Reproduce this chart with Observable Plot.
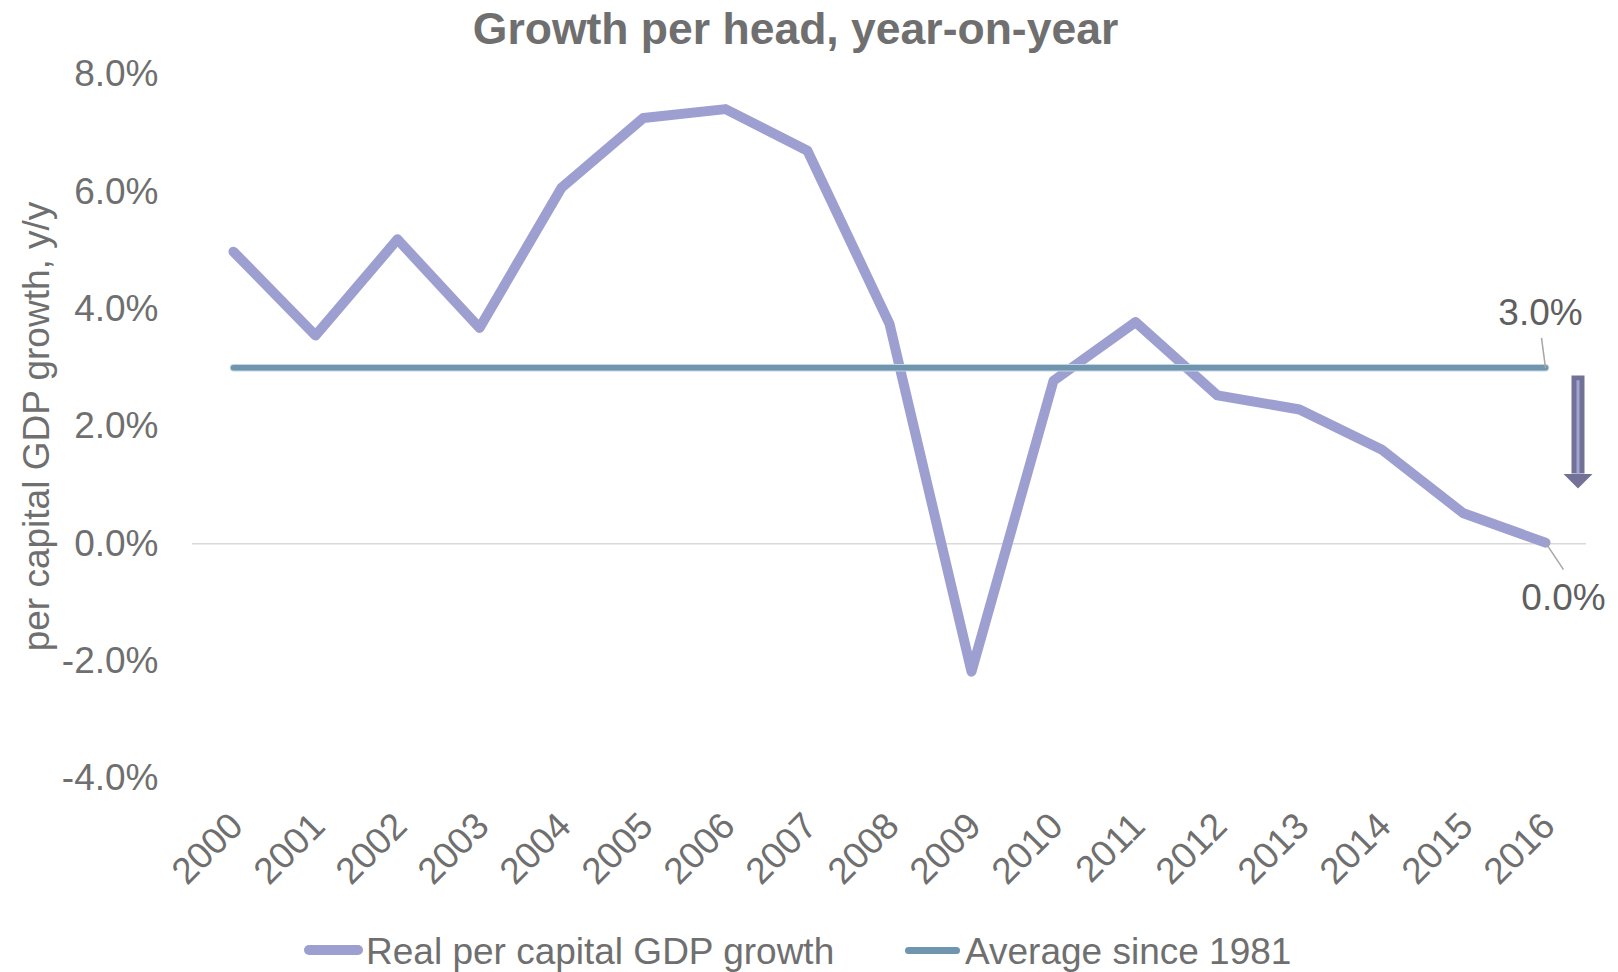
<!DOCTYPE html>
<html><head><meta charset="utf-8">
<script src="https://cdn.jsdelivr.net/npm/d3@7"></script>
<script src="https://cdn.jsdelivr.net/npm/@observablehq/plot@0.6"></script>
<style>
html,body{margin:0;padding:0;background:#fff;}
body{width:1618px;height:972px;overflow:hidden;position:relative;font-family:"Liberation Sans",Arial,sans-serif;}
#title{height:58px;line-height:58px;font-size:44.5px;font-weight:bold;color:#6f6f6f;text-align:center;padding-right:27px;white-space:nowrap;}
#legend{position:absolute;left:0;top:924px;width:1618px;height:56px;}
.sw{position:absolute;border-radius:6px;}
.lt{position:absolute;font-size:37px;color:#6f6f6f;line-height:56px;top:0;white-space:nowrap;}
</style></head><body>
<div id="title"></div>
<div id="chart"></div>
<div id="legend"></div>
<script>
const titleText = "Growth per head, year-on-year";
const yLabel = "per capital GDP growth, y/y";
const years = ["2000","2001","2002","2003","2004","2005","2006","2007","2008","2009","2010","2011","2012","2013","2014","2015","2016"];
const gdpGrowth = [4.98, 3.55, 5.19, 3.68, 6.07, 7.26, 7.41, 6.70, 3.75, -2.18, 2.78, 3.78, 2.53, 2.29, 1.61, 0.52, 0.02];
const averageSince1981 = 3.0;
const yTicks = [-4, -2, 0, 2, 4, 6, 8];
const seriesNames = ["Real per capital GDP growth", "Average since 1981"];
const arrowFrom = 2.86, arrowHeadAt = 1.19;

const gdpColor = "#9d9fd0", avgColor = "#6f96ae", textColor = "#6f6f6f";
const fmt = d => d.toFixed(1) + "%";

const gdpData = years.map((y, i) => ({year: y, value: gdpGrowth[i]}));
const avgData = years.map(y => ({year: y, value: averageSince1981}));
const lastYear = years[years.length - 1];
const lastGdp = gdpGrowth[gdpGrowth.length - 1];

const headSymbol = {draw(ctx) { ctx.moveTo(-14.5, 0); ctx.lineTo(14.5, 0); ctx.lineTo(0, 14.5); ctx.closePath(); }};
const leaderUp = {draw(ctx) { ctx.moveTo(0, 0); ctx.lineTo(-4, -30); }};
const leaderDown = {draw(ctx) { ctx.moveTo(0, 0); ctx.lineTo(18, 27); }};

document.getElementById("title").textContent = titleText;

const chart = Plot.plot({
  width: 1618,
  height: 866,
  marginTop: 16,
  marginBottom: 146,
  marginLeft: 192,
  marginRight: 32,
  style: {fontFamily: '"Liberation Sans", Arial, sans-serif', fontSize: "37px", color: textColor, background: "white", overflow: "visible"},
  x: {type: "point", domain: years, padding: 0.5},
  y: {domain: [-4, 8]},
  marks: [
    Plot.ruleY([0], {stroke: "#d9d9d9", strokeWidth: 1.5}),
    Plot.axisY({ticks: yTicks, tickFormat: fmt, tickSize: 0, tickPadding: 34, label: null, fill: textColor}),
    Plot.axisX({tickRotate: -45, textAnchor: "end", lineAnchor: "top", tickSize: 0, tickPadding: 31, dx: -7, label: null, fill: textColor}),
    Plot.text([yLabel], {frameAnchor: "left", textAnchor: "middle", lineAnchor: "middle", dx: -155, rotate: -90, text: d => d, fill: textColor, fontSize: 37}),
    Plot.line(gdpData, {x: "year", y: "value", stroke: gdpColor, strokeWidth: 10, strokeLinejoin: "round", strokeLinecap: "round"}),
    Plot.line(avgData, {x: "year", y: "value", stroke: "#c3d5e1", strokeWidth: 7.5, strokeLinecap: "round"}),
    Plot.line(avgData, {x: "year", y: "value", stroke: avgColor, strokeWidth: 5.5, strokeLinecap: "round"}),
    // leader lines and data labels
    Plot.dot([averageSince1981], {x: () => lastYear, y: d => d, symbol: leaderUp, fill: "none", stroke: "#a6a6a6", strokeWidth: 1.5}),
    Plot.dot([lastGdp], {x: () => lastYear, y: d => d, symbol: leaderDown, fill: "none", stroke: "#a6a6a6", strokeWidth: 1.5}),
    Plot.text([averageSince1981], {x: () => lastYear, y: d => d, text: fmt, dx: -5, dy: -55, fill: "#5f5f5f", fontSize: 37}),
    Plot.text([lastGdp], {x: () => lastYear, y: d => d, text: fmt, dx: 18, dy: 55, fill: "#5f5f5f", fontSize: 37}),
    // down arrow annotation
    Plot.ruleX([lastYear], {x: d => d, y1: arrowFrom, y2: arrowHeadAt, dx: 32.5, stroke: "#727298", strokeWidth: 13}),
    Plot.ruleX([lastYear], {x: d => d, y1: arrowFrom - 0.08, y2: arrowHeadAt, dx: 32.5, stroke: "#a3a3d4", strokeWidth: 3}),
    Plot.dot([arrowHeadAt], {x: () => lastYear, y: d => d, dx: 32.5, symbol: headSymbol, fill: "#727298", stroke: "none"})
  ]
});
document.getElementById("chart").appendChild(chart);

const legend = document.getElementById("legend");
const items = [
  {name: seriesNames[0], color: gdpColor, sx: 304, sw: 59, sh: 10, tx: 366},
  {name: seriesNames[1], color: avgColor, sx: 905, sw: 55, sh: 7, tx: 965}
];
for (const it of items) {
  const s = document.createElement("div");
  s.className = "sw";
  s.style.left = it.sx + "px"; s.style.width = it.sw + "px"; s.style.height = it.sh + "px";
  s.style.top = (26 - it.sh / 2) + "px"; s.style.background = it.color;
  legend.appendChild(s);
  const t = document.createElement("div");
  t.className = "lt"; t.style.left = it.tx + "px"; t.textContent = it.name;
  legend.appendChild(t);
}
</script>
</body></html>
